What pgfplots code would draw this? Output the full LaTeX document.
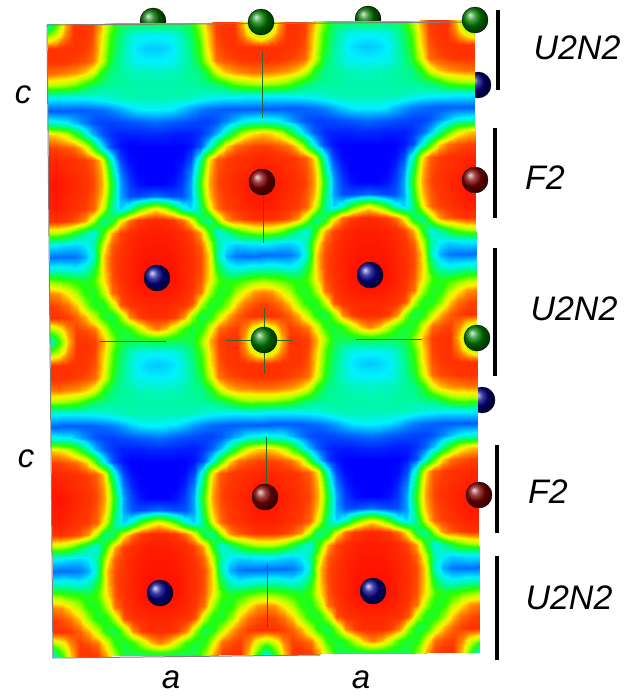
\documentclass[border=0pt]{standalone}
\usepackage{fontspec}
\setmainfont{Liberation Sans}
\usepackage{pgfplots}
\usepackage{pgfplotstable}
\usepgfplotslibrary{patchplots}
\pgfplotsset{compat=1.18}
\pgfplotsset{colormap={field}{rgb255(0)=(0,0,255) rgb255(12)=(0,110,255) rgb255(25)=(0,240,255) rgb255(37)=(0,250,140) rgb255(50)=(40,255,0) rgb255(62)=(190,255,0) rgb255(70)=(255,240,0) rgb255(80)=(255,130,0) rgb255(88)=(255,60,0) rgb255(100)=(255,0,0)}}
% half a cell: 13 values a row, from the F plane (u=0 on the atom column) down to the plane of the green atoms
\pgfplotstableread[row sep=\\]{v\\
96\\96\\94\\92\\90\\87\\76\\48\\18\\7\\2\\0\\0\\
95\\95\\93\\91\\89\\85\\73\\44\\18\\9\\8\\10\\12\\
94\\94\\92\\90\\88\\83\\66\\38\\22\\30\\48\\60\\68\\
90\\90\\88\\85\\78\\60\\36\\42\\68\\82\\88\\91\\92\\
62\\61\\56\\46\\36\\28\\50\\76\\87\\91\\93\\94\\94\\
26\\25\\23\\22\\25\\34\\64\\84\\89\\92\\94\\95\\95\\
12\\12\\12\\13\\18\\32\\72\\86\\90\\93\\95\\96\\96\\
30\\30\\28\\26\\30\\44\\71\\86\\91\\93\\96\\97\\97\\
58\\56\\52\\48\\46\\52\\70\\85\\90\\93\\96\\97\\97\\
80\\78\\70\\60\\48\\46\\60\\82\\89\\92\\94\\95\\95\\
88\\86\\82\\74\\58\\46\\46\\62\\85\\90\\91\\92\\92\\
90\\90\\88\\84\\76\\62\\46\\42\\58\\80\\88\\91\\91\\
58\\66\\80\\88\\86\\82\\66\\48\\44\\50\\62\\74\\80\\
28\\50\\74\\90\\90\\88\\76\\58\\44\\42\\42\\43\\44\\
}\tabA
\pgfplotstableread[row sep=\\]{v\\
28\\50\\74\\90\\90\\88\\76\\58\\44\\42\\42\\43\\44\\
58\\66\\80\\90\\90\\87\\72\\52\\40\\32\\27\\26\\26\\
90\\90\\90\\90\\89\\85\\70\\50\\38\\30\\24\\22\\21\\
90\\90\\90\\88\\86\\82\\66\\46\\36\\30\\26\\25\\25\\
82\\82\\80\\78\\74\\66\\48\\38\\36\\34\\32\\32\\31\\
60\\59\\57\\54\\47\\41\\38\\36\\35\\35\\34\\34\\34\\
26\\26\\26\\26\\26\\27\\28\\30\\32\\33\\33\\33\\33\\
10\\10\\10\\10\\10\\11\\12\\14\\17\\21\\24\\25\\25\\
30\\28\\26\\20\\14\\9\\7\\7\\8\\9\\10\\11\\12\\
74\\72\\66\\52\\36\\20\\10\\5\\3\\3\\3\\4\\4\\
88\\87\\85\\82\\72\\50\\25\\8\\2\\0\\0\\0\\0\\
93\\92\\91\\90\\88\\84\\70\\32\\8\\1\\0\\0\\0\\
94\\94\\92\\91\\89\\86\\74\\42\\14\\4\\0\\0\\0\\
96\\96\\94\\92\\90\\87\\76\\48\\18\\7\\2\\0\\0\\
}\tabB
% #1 table, #2 centre column, #3 mirror sign, #4 first q, #5 row step
\newcommand\tile[5]{%
\addplot[surf,shader=interp,patch type=rectangle,patch refines=1,mesh/rows=14,mesh/cols=13,colormap name=field,point meta=\thisrow{v},point meta min=0,point meta max=100,forget plot]
 table[x index=0,y index=0,x expr={262+(#2)+(#3)*(\coordindex-13*floor((\coordindex+0.5)/13))*8.875+0.0095*((#4)+floor((\coordindex+0.5)/13)*(#5))},
       y expr={183+(#4)+floor((\coordindex+0.5)/13)*(#5)-0.0095*((#2)+(#3)*(\coordindex-13*floor((\coordindex+0.5)/13))*8.875)}] {#1};}
\newcommand\tilerow[3]{\tile{#1}{-213}{1}{#2}{#3}\tile{#1}{0}{-1}{#2}{#3}\tile{#1}{0}{1}{#2}{#3}\tile{#1}{213}{-1}{#2}{#3}}
\newcommand\atoms[2]{\addplot[only marks,mark=ball,mark size=13pt,mark options={ball color=#1,draw=none},forget plot] coordinates {#2};}
\newcommand\seg[1]{\addplot[color={rgb,255:red,45;green,105;blue,45},line width=1pt,forget plot] coordinates {#1};}
\newcommand\vbar[1]{\addplot[black,line width=3.6pt,forget plot] coordinates {#1};}
\pgfplotsset{pixaxis/.style={at={(0,0)},anchor=south west,x=1pt,y=1pt,xmin=0,xmax=624,ymin=0,ymax=699,y dir=reverse,hide axis,clip=false}}
\begin{document}
\begin{tikzpicture}
\useasboundingbox (0,0) rectangle (624pt,699pt);
\begin{axis}[pixaxis]
\atoms{green!45!black}{(153,21) (368,19)}
\atoms{blue!50!black}{(478,85) (482,400)}
\end{axis}
\begin{axis}[pixaxis]
\tilerow{\tabB}{-161}{12.385}
\tilerow{\tabA}{0}{12.08}
\tilerow{\tabB}{157}{12.08}
\tilerow{\tabA}{314}{12.08}
\end{axis}
\begin{axis}[pixaxis]
\addplot[gray,line width=1pt,forget plot] coordinates {(47,25) (475,22)};
\addplot[gray,line width=1pt,forget plot] coordinates {(47,25) (53,658) (320,655)};
\seg{(262,52) (262,118)}
\seg{(263,195) (263,243)}
\seg{(264,308) (264,374)}
\seg{(226,340) (293,340)}
\seg{(356,339) (422,339)}
\seg{(100,341) (166,341)}
\seg{(266,437) (266,490)}
\seg{(267,563) (267,628)}
\atoms{green!50!black}{(261,22) (475,20) (264,340) (477,338)}
\atoms{red!50!black}{(262,182) (475,180) (265,497) (479,495)}
\atoms{blue!55!black}{(157,278) (370,275) (160,593) (373,591)}
\vbar{(498,10) (498,90)}
\vbar{(495,128) (495,218)}
\vbar{(495,248) (495,376)}
\vbar{(497,445) (497,533)}
\vbar{(497,556) (497,660)}
\node[font=\fontsize{34}{34}\selectfont\itshape] at (axis cs:577,48) {U2N2};
\node[font=\fontsize{34}{34}\selectfont\itshape] at (axis cs:545,178) {F2};
\node[font=\fontsize{34}{34}\selectfont\itshape] at (axis cs:574,309) {U2N2};
\node[font=\fontsize{34}{34}\selectfont\itshape] at (axis cs:548,492) {F2};
\node[font=\fontsize{34}{34}\selectfont\itshape] at (axis cs:569,598) {U2N2};
\node[font=\fontsize{33}{33}\selectfont\itshape] at (axis cs:23,95) {c};
\node[font=\fontsize{33}{33}\selectfont\itshape] at (axis cs:26,459) {c};
\node[font=\fontsize{33}{33}\selectfont\itshape] at (axis cs:171,680) {a};
\node[font=\fontsize{33}{33}\selectfont\itshape] at (axis cs:361,680) {a};
\end{axis}
\end{tikzpicture}
\end{document}
